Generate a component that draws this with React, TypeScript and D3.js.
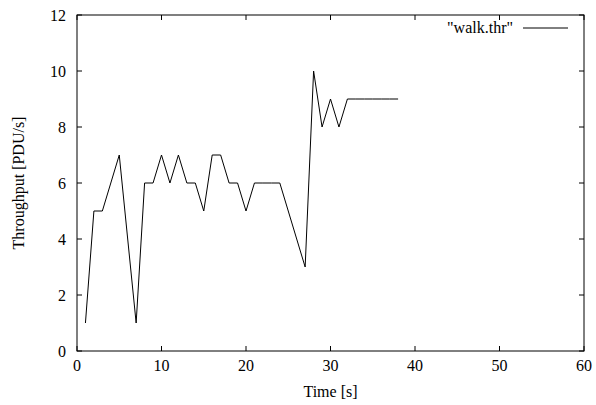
import React from "react";
import * as d3 from "d3";

const times = [1, 2, 3, 5, 7, 8, 9, 10, 11, 12, 13, 14, 15, 16, 17, 18, 19, 20, 21, 22, 23, 24, 27, 28, 29, 30, 31, 32, 33, 34, 35, 36, 37, 38];
const throughput = [1, 5, 5, 7, 1, 6, 6, 7, 6, 7, 6, 6, 5, 7, 7, 6, 6, 5, 6, 6, 6, 6, 3, 10, 8, 9, 8, 9, 9, 9, 9, 9, 9, 9];
const xTicks = [0, 10, 20, 30, 40, 50, 60];
const yTicks = [0, 2, 4, 6, 8, 10, 12];
const seriesName = '"walk.thr"';

export default function App() {
  const W = 596, H = 405;
  const L = 77, R = 584, T = 15, B = 351;
  const x = d3.scaleLinear().domain([0, 60]).range([L, R]);
  const y = d3.scaleLinear().domain([0, 12]).range([B, T]);
  const line = d3.line<number>().x((_, i) => x(times[i])).y((d) => y(d));
  const tl = 5;
  const txt = { fontFamily: "Liberation Serif", fontSize: "16px" } as React.CSSProperties;
  return (
    <svg width={W} height={H} style={{ position: "absolute", left: 0, top: 0, background: "#fff" }}>
      <rect x={0} y={0} width={W} height={H} fill="#fff" />
      {xTicks.map((t) => (
        <g key={"x" + t}>
          <line x1={x(t)} x2={x(t)} y1={B} y2={B - tl} stroke="#000" />
          <line x1={x(t)} x2={x(t)} y1={T} y2={T + tl} stroke="#000" />
          <text x={x(t)} y={B + 20} textAnchor="middle" style={txt}>{t}</text>
        </g>
      ))}
      {yTicks.map((t) => (
        <g key={"y" + t}>
          <line x1={L} x2={L + tl} y1={y(t)} y2={y(t)} stroke="#000" />
          <line x1={R} x2={R - tl} y1={y(t)} y2={y(t)} stroke="#000" />
          <text x={L - 11} y={y(t) + 5.5} textAnchor="end" style={txt}>{t}</text>
        </g>
      ))}
      <rect x={L} y={T} width={R - L} height={B - T} fill="none" stroke="#000" strokeWidth={1} />
      <path d={line(throughput) || ""} fill="none" stroke="#000" strokeWidth={1} />
      <text x={513} y={33} textAnchor="end" style={txt}>{seriesName}</text>
      <line x1={523} x2={568} y1={28} y2={28} stroke="#000" />
      <text x={(L + R) / 2} y={397} textAnchor="middle" style={txt}>Time [s]</text>
      <text transform={`translate(24,${(T + B) / 2}) rotate(-90)`} textAnchor="middle" style={txt}>Throughput [PDU/s]</text>
    </svg>
  );
}
